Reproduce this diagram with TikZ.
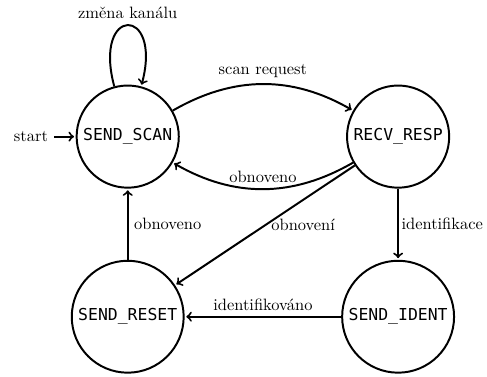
\documentclass[tikz,border=0pt]{standalone}
\usepackage{fontspec}
\setmonofont{DejaVu Sans Mono}
\usetikzlibrary{arrows,automata,positioning}

\begin{document}
\begin{tikzpicture}[->,shorten >=1pt,auto,node distance=5.78cm,
        very thick,main node/.style={state,circle,draw,font=\ttfamily,inner sep=3pt,minimum size=0pt}]

        \useasboundingbox (-2.73,-5.12) rectangle (7.68,2.92);

        \node[main node,initial] (scan) {SEND\_SCAN};
        \node[main node] (recv) [right of=scan] {RECV\_RESP};
        \node[main node] (reset) [below of=scan,node distance=3.85cm] {SEND\_RESET};
        \node[main node] (ident) [right of=reset] {SEND\_IDENT};

        \path
        (scan) edge [loop above] node {změna kanálu} (scan)
               edge [bend left] node {scan request} (recv)
        (recv) edge [bend left] node [swap] {obnoveno} (scan)
               edge node [anchor=west] {obnovení} (reset)
               edge node [inner sep=1.5pt] {identifikace} (ident)
        (reset) edge node [swap] {obnoveno} (scan)
        (ident) edge node [swap] {identifikováno} (reset);
\end{tikzpicture}
\end{document}
